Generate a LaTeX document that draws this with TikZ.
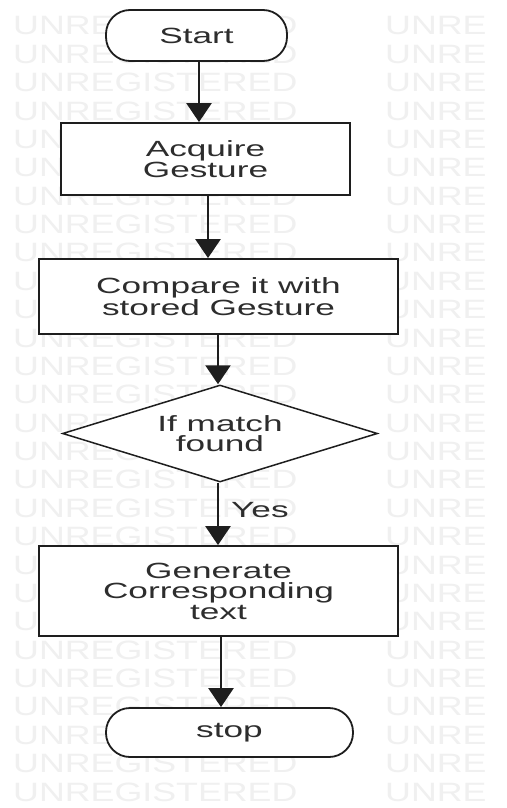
\documentclass[tikz,border=0pt]{standalone}
\usepackage{fontspec}
\setmainfont{Liberation Sans}[FakeStretch=1.6]
\newfontfamily\wmfont{Liberation Sans}[FakeStretch=1.35]
\usetikzlibrary{arrows.meta,shapes.geometric}
\definecolor{wm}{RGB}{240,240,240}
\definecolor{ink}{RGB}{30,30,30}
\definecolor{txt}{RGB}{45,45,45}
\begin{document}
\begin{tikzpicture}[x=1pt,y=-1pt,
  box/.style={draw=ink, line width=1.8pt, fill=white, text=txt, align=center,
    inner sep=0pt, font=\fontsize{22}{20.5}\selectfont},
  term/.style={box, rounded corners=24pt},
  dia/.style={diamond, shape aspect=3.25, draw=ink, line width=1.5pt, fill=white,
    text=txt, align=center, inner sep=0pt, font=\fontsize{22}{20.5}\selectfont},
  arr/.style={draw=ink, line width=2.5pt, -{Triangle[width=25pt,length=19pt]}},
  lbl/.style={text=txt, inner sep=0pt, font=\fontsize{22}{20.5}\selectfont},
  wmtext/.style={text=wm, inner sep=0pt, anchor=base west,
    font=\wmfont\fontsize{26.5}{26.5}\selectfont}]
\useasboundingbox[fill=white] (0,0) rectangle (506,808);
% watermark
\foreach \k in {0,...,27} {
  \node[wmtext] (wa\k) at (13,35+28.37*\k) {UNREGISTERED};
  \node[wmtext] (wb\k) at (385,35+28.37*\k) {UNRE};
}
% flowchart
\node[term, minimum width=181pt, minimum height=51pt] (start) at (196.5,35.5) {Start};
\node[box, minimum width=289pt, minimum height=72pt] (acq) at (205.5,159) {Acquire\\Gesture};
\node[box, minimum width=359pt, minimum height=75pt] (cmp) at (218.5,296.5) {Compare it with\\stored Gesture};
\node[dia, minimum width=315pt, minimum height=97pt] (dec) at (220,433.5) {If match\\found};
\node[box, minimum width=359pt, minimum height=90pt] (gen) at (218.5,591) {Generate\\Corresponding\\text};
\node[term, minimum width=247pt, minimum height=49pt] (stop) at (229.5,732.5) {stop};
% connectors
\draw[arr] ([xshift=2.5pt]start.south) -- ([xshift=-6.5pt]acq.north);
\draw[arr] ([xshift=2.5pt]acq.south) -- ([xshift=-10.5pt]cmp.north);
\draw[arr] ([xshift=-0.5pt]cmp.south) -- ([xshift=-2pt]dec.north);
\draw[arr] ([xshift=-2pt]dec.south) -- ([xshift=-0.5pt]gen.north);
\node[lbl, anchor=west] (yes) at (231,510) {Yes};
\draw[arr] ([xshift=2.5pt]gen.south) -- ([xshift=-8.5pt]stop.north);
\end{tikzpicture}
\end{document}
